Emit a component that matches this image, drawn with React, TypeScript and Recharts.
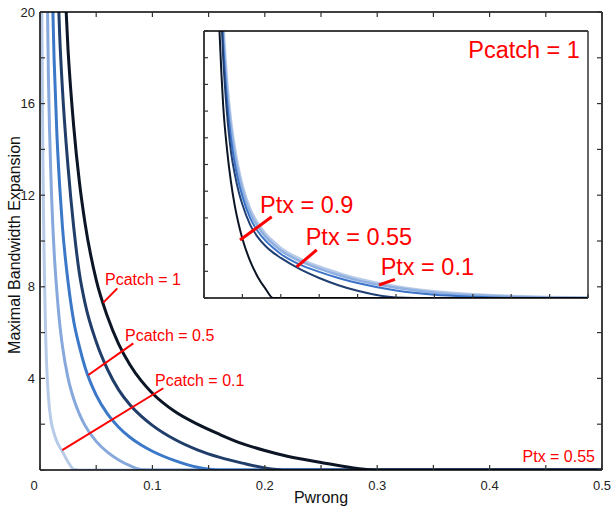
import React from 'react'
import {
  LineChart,
  Line,
  XAxis,
  YAxis,
  ReferenceLine,
  ReferenceDot,
} from 'recharts'

// --- main chart data (Ptx = 0.55) ---
const pwrong = [
  0.001, 0.0025, 0.005, 0.0075, 0.01, 0.0125, 0.015, 0.0175, 0.02, 0.025, 0.03, 0.035, 0.04, 0.05, 0.06,
  0.07, 0.08, 0.09, 0.1, 0.12, 0.14, 0.16, 0.18, 0.2, 0.22, 0.25, 0.3, 0.35, 0.4, 0.45, 0.5,
]
const catch01 = [24, 14, 6, 3.2, 2.1, 1.6, 1.25, 1.0, 0.8, 0.35, 0.03, 0, 0, 0, 0, 0, 0, 0, 0, 0, 0, 0, 0, 0, 0, 0, 0, 0, 0, 0, 0]
const catch025 = [null, null, 26.4, 17.1, 12.4, 9.6, 7.8, 6.4, 5.4, 4.0, 3.1, 2.45, 1.95, 1.25, 0.78, 0.44, 0.19, 0.02, 0, 0, 0, 0, 0, 0, 0, 0, 0, 0, 0, 0, 0]
const catch05 = [null, null, null, null, 22.9, 18.0, 14.7, 12.4, 10.6, 8.2, 6.5, 5.4, 4.5, 3.27, 2.45, 1.87, 1.43, 1.09, 0.82, 0.41, 0.12, 0, 0, 0, 0, 0, 0, 0, 0, 0, 0]
const catch075 = [null, null, null, null, null, null, 22.5, 19.0, 16.6, 13.2, 10.6, 8.6, 7.3, 5.6, 4.4, 3.5, 2.85, 2.35, 1.95, 1.33, 0.88, 0.55, 0.3, 0.09, 0, 0, 0, 0, 0, 0, 0]
const catch1 = [null, null, null, null, null, null, null, null, 23.3, 18.3, 15.0, 12.6, 10.8, 8.3, 6.7, 5.5, 4.6, 3.9, 3.35, 2.55, 2.0, 1.55, 1.15, 0.85, 0.6, 0.33, 0, 0, 0, 0, 0]

const xTicks = [0, 0.05, 0.1, 0.15, 0.2, 0.25, 0.3, 0.35, 0.4, 0.45, 0.5]
const xTickLabels = ['0', '', '0.1', '', '0.2', '', '0.3', '', '0.4', '', '0.5']
const yTicks = [0, 2, 4, 6, 8, 10, 12, 14, 16, 18, 20]
const yTickLabels = ['', '', '4', '', '8', '', '12', '', '16', '', '20']

// --- inset data (Pcatch = 1) ---
const insetX = [0.3, 0.35, 0.4, 0.45, 0.5, 0.6, 0.7, 0.8, 0.9, 1, 1.2, 1.4, 1.6, 1.8, 2, 2.5, 3, 3.5, 4, 5, 6, 7, 8, 9, 10]
const ptx09 = [null, 12.0, 10.1, 8.5, 7.2, 5.56, 4.37, 3.47, 2.78, 2.22, 1.39, 0.79, 0.35, 0, 0, 0, 0, 0, 0, 0, 0, 0, 0, 0, 0]
const ptx055 = [null, null, 12.5, 10.6, 9.0, 6.9, 5.5, 4.65, 4.0, 3.5, 2.75, 2.28, 1.95, 1.7, 1.5, 1.08, 0.75, 0.48, 0.27, 0.02, 0, 0, 0, 0, 0]
const ptx03 = [null, null, 13.0, 11.1, 9.5, 7.4, 6.0, 5.05, 4.35, 3.8, 3.0, 2.5, 2.15, 1.88, 1.65, 1.25, 0.98, 0.75, 0.56, 0.28, 0.12, 0.05, 0.01, 0, 0]
const ptx02 = [null, null, 13.4, 11.4, 9.9, 7.8, 6.4, 5.4, 4.65, 4.05, 3.2, 2.68, 2.3, 2.02, 1.78, 1.38, 1.1, 0.86, 0.66, 0.38, 0.2, 0.1, 0.05, 0.02, 0]
const ptx01 = [null, null, 13.8, 11.7, 10.2, 8.05, 6.6, 5.6, 4.82, 4.2, 3.33, 2.8, 2.4, 2.12, 1.87, 1.46, 1.17, 0.93, 0.72, 0.43, 0.24, 0.13, 0.07, 0.03, 0.01]
const insetTicks = [0, 1, 2, 3, 4, 5, 6, 7, 8, 9, 10]

const mainData = pwrong.map((x, i) => ({
  x,
  c01: catch01[i],
  c025: catch025[i],
  c05: catch05[i],
  c075: catch075[i],
  c1: catch1[i],
}))

const insetData = insetX.map((x, i) => ({
  x,
  t09: ptx09[i],
  t055: ptx055[i],
  t03: ptx03[i],
  t02: ptx02[i],
  t01: ptx01[i],
}))

const FONT = '"Liberation Sans", Arial, Helvetica, sans-serif'
const RED = '#ff0000'
const C = ['#b7cbe8', '#86a8dc', '#3c78c8', '#213d69', '#0b1525']
const TICK = '#333'
const Y_MARGIN = 5
const X_MARGIN = 11
// plot box of the main chart (set by the margins below)
const PLOT_TOP = 12
const PLOT_RIGHT = 602

// ticks point inward on all four sides; labels stay outside
const BottomTick = (props: any) => {
  const { x, y, index } = props
  const label = xTickLabels[index]
  const ay = y - X_MARGIN
  return (
    <g>
      <line x1={x} y1={ay} x2={x} y2={ay - 5} stroke={TICK} strokeWidth={1.2} />
      <line x1={x} y1={PLOT_TOP} x2={x} y2={PLOT_TOP + 5} stroke={TICK} strokeWidth={1.2} />
      {label ? (
        <text x={index === 0 ? x - 6 : x} y={y} dy={9.3} textAnchor="middle" fontSize={13} fill="#222" fontFamily={FONT}>
          {label}
        </text>
      ) : null}
    </g>
  )
}

const LeftTick = (props: any) => {
  const { x, y, index } = props
  const label = yTickLabels[index]
  const ax = x + Y_MARGIN
  return (
    <g>
      <line x1={ax} y1={y} x2={ax + 5} y2={y} stroke={TICK} strokeWidth={1.2} />
      <line x1={PLOT_RIGHT} y1={y} x2={PLOT_RIGHT - 5} y2={y} stroke={TICK} strokeWidth={1.2} />
      {label ? (
        <text x={x} y={y} dy={4.6} textAnchor="end" fontSize={13} fill="#222" fontFamily={FONT}>
          {label}
        </text>
      ) : null}
    </g>
  )
}

const InsetBottomTick = (props: any) => (
  <line x1={props.x} y1={props.y} x2={props.x} y2={props.y - 4} stroke={TICK} strokeWidth={1.2} />
)
const InsetLeftTick = (props: any) => (
  <line x1={props.x} y1={props.y} x2={props.x + 4} y2={props.y} stroke={TICK} strokeWidth={1.2} />
)

const YTitle = (p: any) => {
  const vb = p.viewBox
  const cx = vb.x + 14
  const cy = vb.y + vb.height / 2 + 4
  return (
    <text
      x={cx}
      y={cy}
      transform={`rotate(-90 ${cx} ${cy})`}
      textAnchor="middle"
      dominantBaseline="central"
      fontSize={16}
      fill="#111"
      fontFamily={FONT}
    >
      Maximal Bandwidth Expansion
    </text>
  )
}

const axisLine = { stroke: '#000', strokeWidth: 1.5 }

function MainChart() {
  return (
    <LineChart
      width={613}
      height={508}
      data={mainData}
      margin={{ top: 11, right: 10, bottom: 0, left: 0 }}
      style={{ fontFamily: FONT }}
    >
      <XAxis
        dataKey="x"
        type="number"
        domain={[0, 0.5]}
        ticks={xTicks}
        interval={0}
        height={38}
        tickSize={0}
        tickMargin={X_MARGIN}
        tick={<BottomTick />}
        tickLine={false}
        axisLine={axisLine}
        label={{ value: 'Pwrong', position: 'insideBottom', offset: 5, fontSize: 16, fill: '#111' }}
      />
      <XAxis xAxisId="top" orientation="top" dataKey="x" type="number" domain={[0, 0.5]} height={1}
        tick={false} tickLine={false} axisLine={axisLine} />
      <YAxis
        type="number"
        domain={[0, 20]}
        ticks={yTicks}
        interval={0}
        width={40}
        allowDataOverflow
        tickSize={0}
        tickMargin={Y_MARGIN}
        tick={<LeftTick />}
        tickLine={false}
        axisLine={axisLine}
        label={{ value: 'Maximal Bandwidth Expansion', content: YTitle }}
      />
      <YAxis yAxisId="right" orientation="right" type="number" domain={[0, 20]} width={1}
        tick={false} tickLine={false} axisLine={axisLine} />
      <Line dataKey="c01" type="monotone" stroke={C[0]} strokeWidth={3} dot={false} isAnimationActive={false} />
      <Line dataKey="c025" type="monotone" stroke={C[1]} strokeWidth={3} dot={false} isAnimationActive={false} />
      <Line dataKey="c05" type="monotone" stroke={C[2]} strokeWidth={3} dot={false} isAnimationActive={false} />
      <Line dataKey="c075" type="monotone" stroke={C[3]} strokeWidth={3} dot={false} isAnimationActive={false} />
      <Line dataKey="c1" type="monotone" stroke={C[4]} strokeWidth={3} dot={false} isAnimationActive={false} />

      {/* annotations */}
      <ReferenceLine segment={[{ x: 0.0563, y: 7.31 }, { x: 0.0688, y: 7.93 }]} stroke={RED} strokeWidth={2} />
      <ReferenceDot x={0.0578} y={8.33} r={0} fill="none" stroke="none"
        label={{ value: 'Pcatch = 1', position: 'right', offset: 0, fill: RED, fontSize: 16 }} />
      <ReferenceLine segment={[{ x: 0.043, y: 4.15 }, { x: 0.083, y: 5.53 }]} stroke={RED} strokeWidth={2} />
      <ReferenceDot x={0.0756} y={5.9} r={0} fill="none" stroke="none"
        label={{ value: 'Pcatch = 0.5', position: 'right', offset: 0, fill: RED, fontSize: 16 }} />
      <ReferenceLine segment={[{ x: 0.0198, y: 0.87 }, { x: 0.1097, y: 3.57 }]} stroke={RED} strokeWidth={2} />
      <ReferenceDot x={0.1023} y={3.93} r={0} fill="none" stroke="none"
        label={{ value: 'Pcatch = 0.1', position: 'right', offset: 0, fill: RED, fontSize: 16 }} />
      <ReferenceDot x={0.4938} y={0.61} r={0} fill="none" stroke="none"
        label={{ value: 'Ptx = 0.55', position: 'left', offset: 0, fill: RED, fontSize: 16 }} />
    </LineChart>
  )
}

function InsetChart() {
  return (
    <LineChart
      width={394}
      height={277}
      data={insetData}
      margin={{ top: 4, right: 4, bottom: 4, left: 4 }}
      style={{ fontFamily: FONT }}
    >
      <XAxis
        dataKey="x"
        type="number"
        domain={[0, 10]}
        ticks={insetTicks}
        interval={0}
        height={1}
        tickSize={0}
        tickMargin={0}
        tick={<InsetBottomTick />}
        tickLine={false}
        axisLine={axisLine}
      />
      <XAxis xAxisId="top" orientation="top" dataKey="x" type="number" domain={[0, 10]} height={1}
        tick={false} tickLine={false} axisLine={axisLine} />
      <YAxis
        type="number"
        domain={[0, 10]}
        ticks={insetTicks}
        interval={0}
        width={1}
        allowDataOverflow
        tickSize={0}
        tickMargin={0}
        tick={<InsetLeftTick />}
        tickLine={false}
        axisLine={axisLine}
      />
      <YAxis yAxisId="right" orientation="right" type="number" domain={[0, 10]} width={1}
        tick={false} tickLine={false} axisLine={{ stroke: '#333', strokeWidth: 1.5 }} />
      <Line dataKey="t01" type="monotone" stroke={C[0]} strokeWidth={3} dot={false} isAnimationActive={false} />
      <Line dataKey="t02" type="monotone" stroke="#8fb0e0" strokeWidth={2.5} dot={false} isAnimationActive={false} />
      <Line dataKey="t03" type="monotone" stroke="#3b73c8" strokeWidth={2} dot={false} isAnimationActive={false} />
      <Line dataKey="t055" type="monotone" stroke="#1f3f73" strokeWidth={2} dot={false} isAnimationActive={false} />
      <Line dataKey="t09" type="monotone" stroke={C[4]} strokeWidth={2} dot={false} isAnimationActive={false} />

      <ReferenceDot x={9.79} y={9.31} r={0} fill="none" stroke="none"
        label={{ value: 'Pcatch = 1', position: 'left', offset: 0, fill: RED, fontSize: 23.5 }} />
      <ReferenceLine segment={[{ x: 0.9375, y: 2.17 }, { x: 1.763, y: 3.04 }]} stroke={RED} strokeWidth={3} />
      <ReferenceDot x={1.458} y={3.51} r={0} fill="none" stroke="none"
        label={{ value: 'Ptx = 0.9', position: 'right', offset: 0, fill: RED, fontSize: 23.5 }} />
      <ReferenceLine segment={[{ x: 2.414, y: 1.17 }, { x: 2.935, y: 1.8 }]} stroke={RED} strokeWidth={3} />
      <ReferenceDot x={2.648} y={2.3} r={0} fill="none" stroke="none"
        label={{ value: 'Ptx = 0.55', position: 'right', offset: 0, fill: RED, fontSize: 23.5 }} />
      <ReferenceLine segment={[{ x: 4.557, y: 0.487 }, { x: 4.974, y: 0.7 }]} stroke={RED} strokeWidth={3} />
      <ReferenceDot x={4.6} y={1.17} r={0} fill="none" stroke="none"
        label={{ value: 'Ptx = 0.1', position: 'right', offset: 0, fill: RED, fontSize: 23.5 }} />
    </LineChart>
  )
}

export default function App() {
  return (
    <div style={{ position: 'absolute', left: 0, top: 0, width: 613, height: 508, background: '#fff', fontFamily: FONT }}>
      <div style={{ position: 'absolute', left: 0, top: 0 }}>
        <MainChart />
      </div>
      <div style={{ position: 'absolute', left: 204, top: 31, width: 384, height: 267, background: '#fff' }} />
      <div style={{ position: 'absolute', left: 199, top: 26 }}>
        <InsetChart />
      </div>
    </div>
  )
}
